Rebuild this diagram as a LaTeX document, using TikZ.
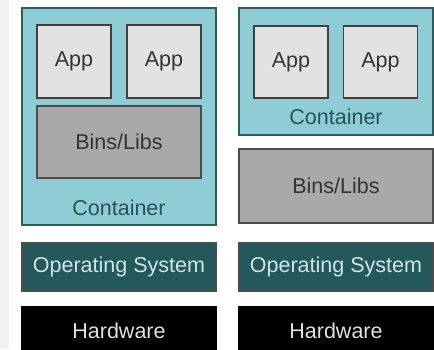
\documentclass[tikz,border=0pt]{standalone}
\usepackage{fontspec}
\setmainfont{Liberation Sans}
\usepackage{xcolor}
\usepackage{tikz}
\usetikzlibrary{
    calc,
    positioning
}
\definecolor{ctrfill}{HTML}{8FCDD6}
\definecolor{ctrline}{HTML}{2F5A5E}
\definecolor{appfill}{HTML}{E2E2E2}
\definecolor{binfill}{HTML}{A9A9A9}
\definecolor{osfill}{HTML}{24585B}
\definecolor{ostext}{HTML}{CFE6E6}
\newlength{\px}
\setlength{\px}{0.025cm}
\tikzset{
    box/.style={draw, line width=0.8pt, inner sep=0pt,
        font=\fontsize{15.3}{18}\selectfont},
    ctr/.style={box, draw=ctrline, fill=ctrfill},
    app/.style={box, draw=black!75, fill=appfill, text=black!80,
        minimum width=74\px, minimum height=73\px},
    bins/.style={box, draw=black!70, fill=binfill, text=black!80},
    os/.style={box, draw=black!70, fill=osfill, text=ostext,
        minimum width=194\px, minimum height=48\px},
    hw/.style={box, draw=black, fill=black, text=black!12,
        minimum width=194\px, minimum height=48\px},
    ctrtext/.style={font=\fontsize{15.3}{18}\selectfont, text=ctrline!90!black}
}

\begin{document}
\begin{tikzpicture}[x=0.025cm, y=-0.025cm]
        \useasboundingbox (0,0) rectangle (434,349);
        \clip (0,0) rectangle (434,349);
        \fill[black!5] (0,0) rectangle (9,349);

        % left stack: apps and bins/libs inside the container
        \begin{scope}
            \node[ctr, minimum width=194\px, minimum height=217\px] (lctr) at (119,116.5) {};
            \node[app] (lapp1) at (74,61.5) {App};
            \node[app] (lapp2) at (164,61.5) {App};
            \node[bins, minimum width=164\px, minimum height=72\px] (lbins) at (119,142) {Bins/Libs};
            \node[ctrtext] (lctrtext) at (119,208) {Container};
            \node[os] (los) at (119,267) {Operating System};
            \node[hw] (lhw) at (119,331) {Hardware};
        \end{scope}

        % right stack: bins/libs below the container
        \begin{scope}
            \node[ctr, minimum width=194\px, minimum height=127\px] (rctr) at (336,71.5) {};
            \node[app, minimum height=72\px] (rapp1) at (291,62) {App};
            \node[app, minimum height=72\px] (rapp2) at (380.5,62) {App};
            \node[ctrtext] (rctrtext) at (336,117) {Container};
            \node[bins, minimum width=194\px, minimum height=74\px] (rbins) at (336,186) {Bins/Libs};
            \node[os] (ros) at (336,267) {Operating System};
            \node[hw] (rhw) at (336,331) {Hardware};
        \end{scope}
    \end{tikzpicture}
\end{document}
